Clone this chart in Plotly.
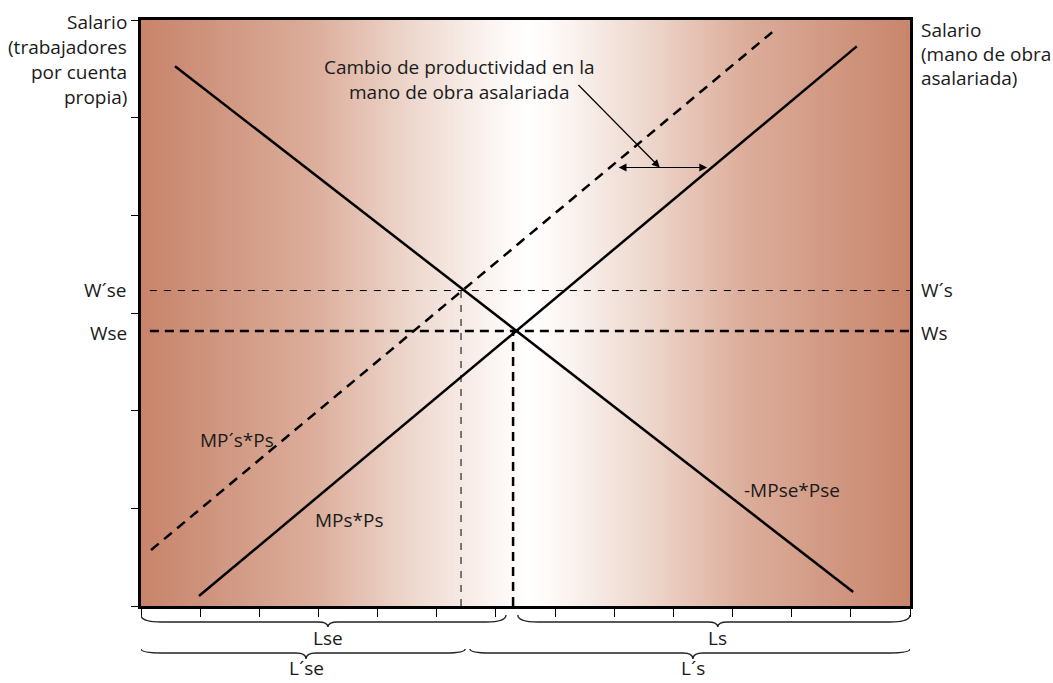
import numpy as np
import plotly.graph_objects as go

# ---- data (in chart units: x = labour 0..13, y = wage 0..6) ----
x_ticks = list(range(0, 14))
y_ticks = list(range(0, 7))

mpse_x = [0.575, 12.04]      # -MPse*Pse (downward)
mpse_y = [5.527, 0.143]
mps_x = [0.98, 12.10]        # MPs*Ps (upward)
mps_y = [0.102, 5.73]
mps2_x = [0.17, 10.67]       # MP's*Ps (shifted, dashed)
mps2_y = [0.573, 5.875]

w_eq = 2.815                 # Wse / Ws
w_eq_new = 3.23              # W'se / W's
l_eq = 6.29
l_eq_new = 5.41
h_span = [0.15, 13.0]

curve_labels = ["MP´s*Ps", "MPs*Ps", "-MPse*Pse"]
curve_label_x = [1.62, 3.52, 11.0]
curve_label_y = [1.70, 0.88, 1.19]

brace_names = ["Lse", "Ls", "L´se", "L´s"]
brace_start = [0.0, 6.37, 0.0, 5.56]
brace_end = [6.17, 13.0, 5.48, 13.0]
brace_tip = [3.16, 9.75, 2.79, 9.33]
brace_row = [0, 0, 1, 1]

arrow_y = 4.49
arrow_x = [8.05, 9.57]
pointer_from = [7.37, 5.35]
pointer_to = [8.77, 4.49]

FONT = "Open Sans"
FS = 19
TXT = "#1a1a1a"

# geometry in window pixels (body margin removed by post_script)
WIN_W, WIN_H = 1053, 683
L, R, T, B = 141, 910, 20, 606
PW, PH = R - L, B - T

def py(p):
    return (B - p) / PH

def px(p):
    return (p - L) / PW

fig = go.Figure()

# background gradient
gx = np.linspace(0, 13, 261)
centre = 6.55
d = np.clip(np.abs(gx - centre) / 6.55, 0, 1)
fig.add_trace(go.Heatmap(
    x=gx, y=[0, 6], z=[d, d], zmin=0, zmax=1, zsmooth="best",
    colorscale=[[0, "#ffffff"], [0.06, "#fdf9f7"], [0.3, "#eed8ce"],
                [0.55, "#dcae9b"], [0.8, "#d09680"], [1, "#c8846b"]],
    showscale=False, hoverinfo="skip"))

line = dict(color="black", width=2.5)
fig.add_trace(go.Scatter(x=mpse_x, y=mpse_y, mode="lines", line=line, hoverinfo="skip"))
fig.add_trace(go.Scatter(x=mps_x, y=mps_y, mode="lines", line=line, hoverinfo="skip"))
fig.add_trace(go.Scatter(x=mps2_x, y=mps2_y, mode="lines",
                         line=dict(color="black", width=2.5, dash="10px,7px"), hoverinfo="skip"))
fig.add_trace(go.Scatter(x=h_span, y=[w_eq_new, w_eq_new], mode="lines",
                         line=dict(color="black", width=1, dash="7px,7px"), hoverinfo="skip"))
fig.add_trace(go.Scatter(x=h_span, y=[w_eq, w_eq], mode="lines",
                         line=dict(color="black", width=2.5, dash="9px,6px"), hoverinfo="skip"))
fig.add_trace(go.Scatter(x=[l_eq_new, l_eq_new], y=[0, w_eq_new], mode="lines",
                         line=dict(color="black", width=1, dash="7px,7px"), hoverinfo="skip"))
fig.add_trace(go.Scatter(x=[l_eq, l_eq], y=[0, w_eq], mode="lines",
                         line=dict(color="black", width=2.5, dash="9px,6px"), hoverinfo="skip"))

ann = []
for t, x, y in zip(curve_labels, curve_label_x, curve_label_y):
    ann.append(dict(x=x, y=y, xref="x", yref="y", text=t, showarrow=False,
                    font=dict(family=FONT, size=FS, color=TXT)))

def txt(t, x, y, xa="center"):
    ann.append(dict(x=x, y=y, xref="paper", yref="paper", text=t, showarrow=False,
                    xanchor=xa, yanchor="middle", font=dict(family=FONT, size=FS, color=TXT)))

for t, y in zip(["Salario", "(trabajadores", "por cuenta", "propia)"], [22, 47, 72, 97]):
    txt(t, px(129), py(y), "right")
for t, y in zip(["Salario", "(mano de obra", "asalariada)"], [30, 54, 78]):
    txt(t, px(919), py(y), "left")
txt("W´se", px(129), py(290), "right")
txt("Wse", px(129), py(333), "right")
txt("W´s", px(919), py(290), "left")
txt("Ws", px(919), py(333), "left")
txt("Cambio de productividad en la", px(459), py(67))
txt("mano de obra asalariada", px(459), py(92))

# brace labels
label_y = [638, 668]
for n, tip, r in zip(brace_names, brace_tip, brace_row):
    ann.append(dict(x=tip, y=py(label_y[r]), xref="x", yref="paper", text=n, showarrow=False,
                    yanchor="middle", font=dict(family=FONT, size=FS, color=TXT)))

# arrows
ann.append(dict(x=pointer_to[0], y=pointer_to[1], ax=pointer_from[0], ay=pointer_from[1],
                xref="x", yref="y", axref="x", ayref="y", text="", showarrow=True,
                arrowhead=2, arrowsize=1.3, arrowwidth=1.2, arrowcolor="black"))
ann.append(dict(x=arrow_x[1], y=arrow_y, ax=arrow_x[0], ay=arrow_y,
                xref="x", yref="y", axref="x", ayref="y", text="", showarrow=True,
                arrowhead=2, startarrowhead=2, arrowside="end+start", arrowsize=1.3,
                startarrowsize=1.3, arrowwidth=1.2, arrowcolor="black"))

# braces
rows = [(py(615), py(622), py(627)), (py(649), py(653), py(659))]
shapes = []
for s, e, tip, r in zip(brace_start, brace_end, brace_tip, brace_row):
    ye, yf, yt = rows[r]
    re_, rt = 0.34, 0.17
    path = (f"M {s},{ye} Q {s},{yf} {s+re_},{yf} L {tip-rt},{yf} Q {tip},{yf} {tip},{yt} "
            f"Q {tip},{yf} {tip+rt},{yf} L {e-re_},{yf} Q {e},{yf} {e},{ye}")
    shapes.append(dict(type="path", path=path, xref="x", yref="paper",
                       line=dict(color="#222222", width=1.4)))

fig.update_layout(
    width=WIN_W, height=WIN_H, autosize=False,
    margin=dict(l=L, r=WIN_W - R, t=T, b=WIN_H - B, pad=0),
    paper_bgcolor="white", plot_bgcolor="white",
    showlegend=False, annotations=ann, shapes=shapes,
    xaxis=dict(range=[0, 13], tickvals=x_ticks, showticklabels=False, ticks="outside",
               ticklen=8, tickwidth=1.2, tickcolor="black", showgrid=False, zeroline=False,
               showline=True, linecolor="black", linewidth=3, mirror=True, fixedrange=True),
    yaxis=dict(range=[0, 6], tickvals=y_ticks, showticklabels=False, ticks="outside",
               ticklen=7, tickwidth=1.2, tickcolor="black", showgrid=False, zeroline=False,
               showline=True, linecolor="black", linewidth=3, mirror=True, fixedrange=True),
)

fig.write_html("out.html", config={"displayModeBar": False},
               post_script="document.body.style.margin='0';document.body.style.overflow='hidden';")
